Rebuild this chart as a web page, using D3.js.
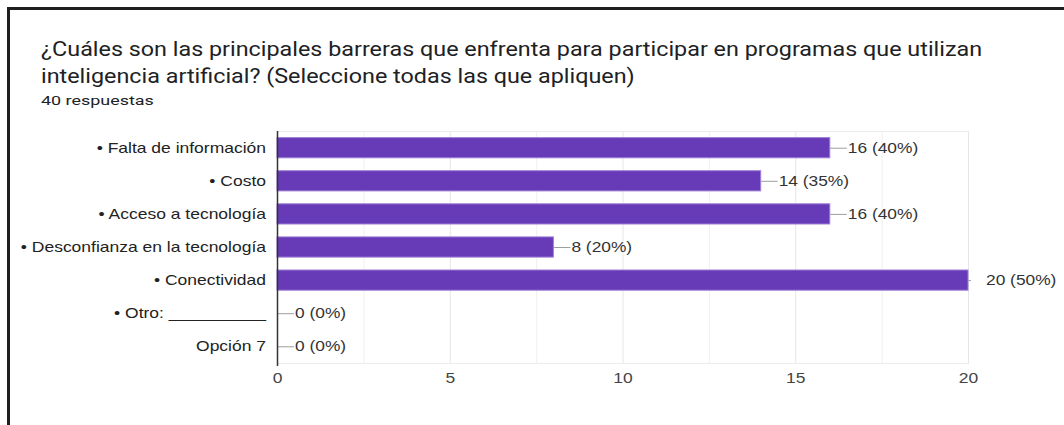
<!DOCTYPE html>
<html>
<head>
<meta charset="utf-8">
<script src="https://cdn.jsdelivr.net/npm/d3@7"></script>
<style>
  html, body { margin: 0; padding: 0; background: #fff; }
  svg { display: block; }
</style>
</head>
<body>
<svg id="chart" width="1064" height="425"></svg>
<script>
// Survey answers: barriers to joining AI programmes (40 responses)
const categories = [
  "• Falta de información",
  "• Costo",
  "• Acceso a tecnología",
  "• Desconfianza en la tecnología",
  "• Conectividad",
  "• Otro: __________",
  "Opción 7"
];
const counts = [16, 14, 16, 8, 20, 0, 0];
const percents = [40, 35, 40, 20, 50, 0, 0];
const xTicks = [0, 5, 10, 15, 20];
const gridValues = [2.5, 5, 7.5, 10, 12.5, 15, 17.5, 20];

const titleLines = [
  "¿Cuáles son las principales barreras que enfrenta para participar en programas que utilizan",
  "inteligencia artificial? (Seleccione todas las que apliquen)"
];
const subtitle = "40 respuestas";

const svg = d3.select("#chart");

// The page is rendered with slightly widened glyphs; move each text's x/y
// into a transform and stretch it horizontally about its anchor point.
function stretch(sel, sx) {
  sel.each(function () {
    const t = d3.select(this);
    const tx = +t.attr("x") || 0;
    const ty = +t.attr("y") || 0;
    t.attr("x", 0).attr("y", 0)
     .attr("transform", `translate(${tx},${ty}) scale(${sx},1)`);
  });
}

// outer card frame (left and top edges)
svg.append("path")
  .attr("d", "M8.5,425 V8.5 H1064")
  .attr("fill", "none")
  .attr("stroke", "#1f1f1f")
  .attr("stroke-width", 3);

// title
const title = svg.append("g");
titleLines.forEach((t, i) => {
  title.append("text")
    .attr("x", 41)
    .attr("y", 56 + i * 27)
    .attr("font-family", "Roboto, sans-serif")
    .attr("font-size", 20)
    .attr("fill", "#202124")
    .text(t);
});
stretch(title.selectAll("text"), 1.168);

const sub = svg.append("text")
  .attr("x", 41)
  .attr("y", 105)
  .attr("font-family", "Roboto, sans-serif")
  .attr("font-size", 13)
  .attr("fill", "#202124")
  .text(subtitle);
stretch(sub, 1.38);

// plot area
const plot = { left: 277, right: 968, top: 131, bottom: 363 };

const x = d3.scaleLinear().domain([0, 20]).range([plot.left, plot.right]);
const y = d3.scaleBand().domain(categories).range([plot.top, plot.bottom]).paddingInner(0.39).paddingOuter(0.2);

// vertical gridlines
svg.append("g")
  .selectAll("line")
  .data(gridValues)
  .join("line")
  .attr("x1", d => x(d) + 0.5).attr("x2", d => x(d) + 0.5)
  .attr("y1", plot.top).attr("y2", plot.bottom)
  .attr("stroke", d => d % 5 === 0 ? "#e6e6e6" : "#f0f0f0")
  .attr("stroke-width", 1);

// top and bottom frame of the plot area
svg.append("g")
  .selectAll("line")
  .data([plot.top, plot.bottom])
  .join("line")
  .attr("x1", plot.left).attr("x2", plot.right + 1)
  .attr("y1", d => d + 0.5).attr("y2", d => d + 0.5)
  .attr("stroke", "#ececec");

// bars
svg.append("g")
  .selectAll("rect")
  .data(counts)
  .join("rect")
  .attr("x", x(0))
  .attr("y", (d, i) => y(categories[i]))
  .attr("width", d => x(d) - x(0))
  .attr("height", y.bandwidth())
  .attr("fill", "#673ab7")
  .attr("stroke", "#9e7fd6")
  .attr("stroke-width", d => d > 0 ? 1 : 0);

// value annotations with leader lines
const ann = svg.append("g")
  .selectAll("g")
  .data(counts)
  .join("g")
  .attr("transform", (d, i) => `translate(0,${y(categories[i]) + y.bandwidth() / 2})`);

ann.append("line")
  .attr("x1", d => x(d))
  .attr("x2", d => d === 20 ? x(d) + 3 : x(d) + 17)
  .attr("y1", 0.5).attr("y2", 0.5)
  .attr("stroke", "#9e9e9e")
  .attr("stroke-width", 1);

const annText = ann.append("text")
  .attr("x", d => x(d) + 18)
  .attr("y", 5)
  .attr("font-family", "'Liberation Sans', Arial, sans-serif")
  .attr("font-size", 14)
  .attr("fill", "#333")
  .text((d, i) => `${d} (${percents[i]}%)`);
stretch(annText, 1.24);

// category axis
const yAxis = svg.append("g")
  .attr("transform", `translate(${plot.left},0)`)
  .call(d3.axisLeft(y).tickSize(0).tickPadding(11));
yAxis.select(".domain").remove();
yAxis.selectAll("text")
  .attr("dy", null)
  .attr("y", 5)
  .attr("font-family", "'Liberation Sans', Arial, sans-serif")
  .attr("font-size", 14)
  .attr("fill", "#222");
stretch(yAxis.selectAll("text"), 1.25);

// baseline at zero
svg.append("line")
  .attr("x1", x(0) + 0.5).attr("x2", x(0) + 0.5)
  .attr("y1", plot.top).attr("y2", plot.bottom + 3)
  .attr("stroke", "#333")
  .attr("stroke-width", 1.5);

// value axis
const xAxis = svg.append("g")
  .attr("transform", `translate(0,${plot.bottom})`)
  .call(d3.axisBottom(x).tickValues(xTicks).tickSize(0).tickPadding(10).tickFormat(d3.format("d")));
xAxis.select(".domain").remove();
xAxis.selectAll("text")
  .attr("dy", null)
  .attr("y", 20)
  .attr("font-family", "'Liberation Sans', Arial, sans-serif")
  .attr("font-size", 14)
  .attr("fill", "#444");
stretch(xAxis.selectAll("text"), 1.25);
</script>
</body>
</html>
